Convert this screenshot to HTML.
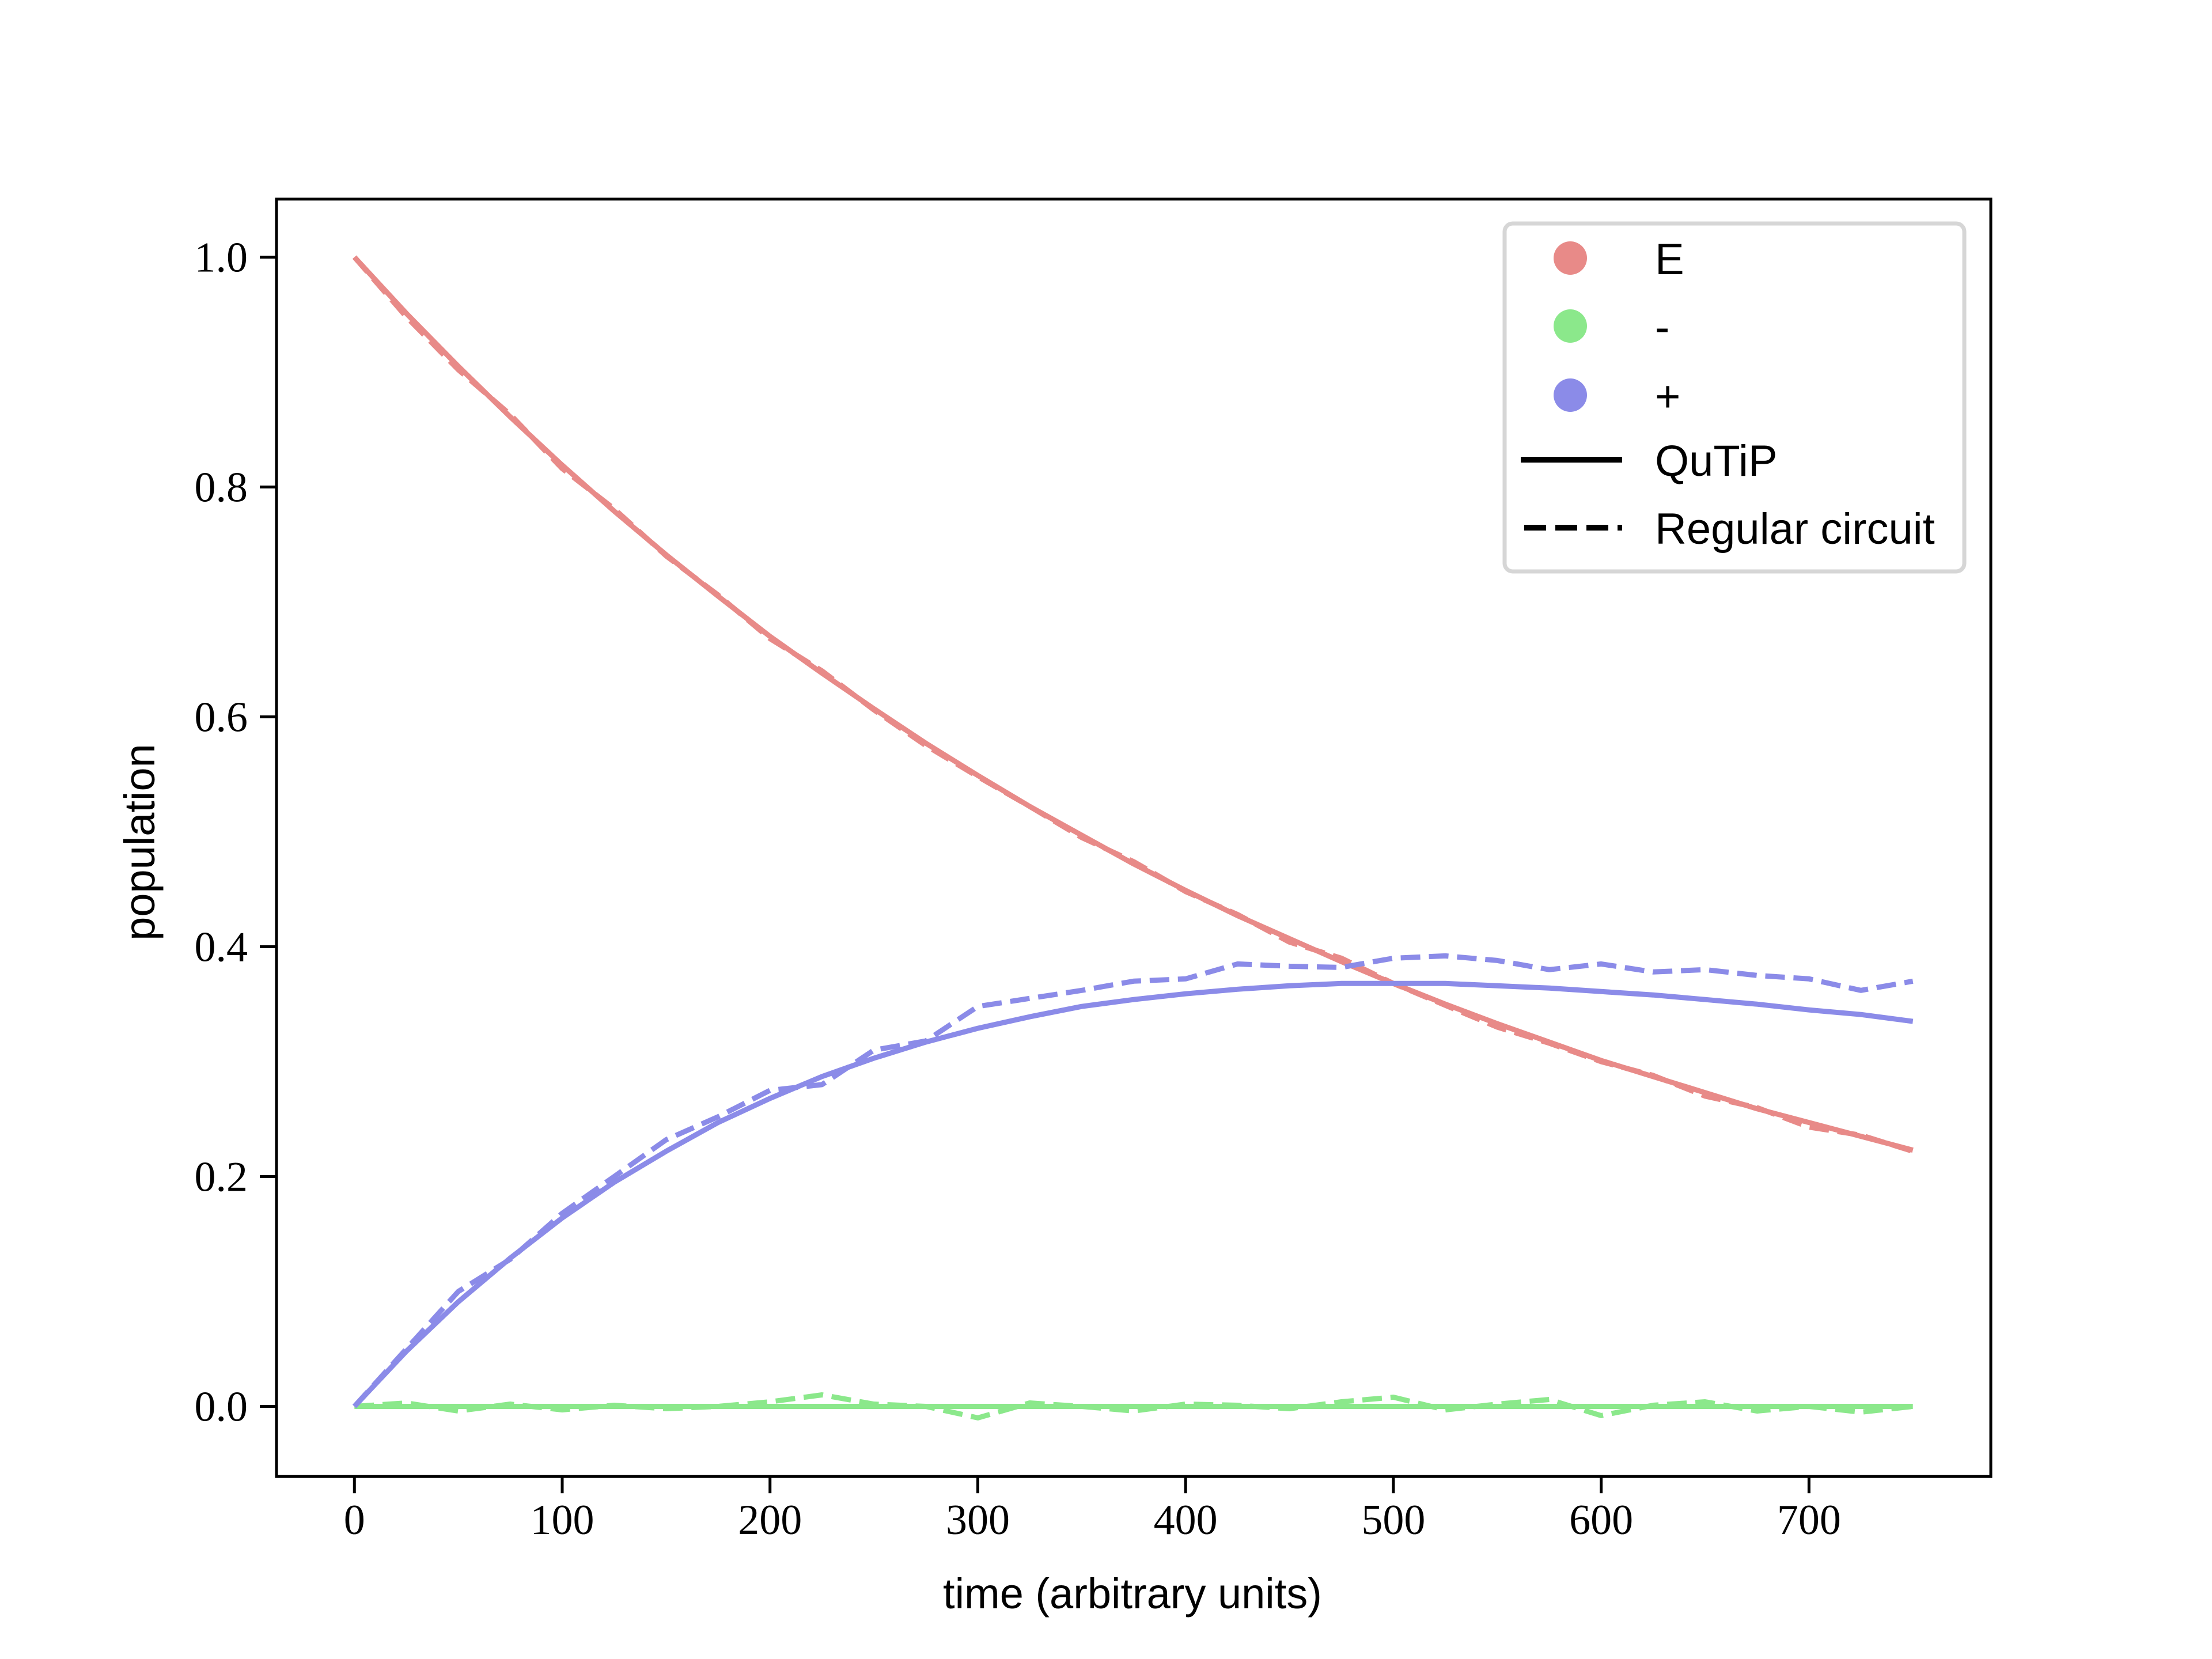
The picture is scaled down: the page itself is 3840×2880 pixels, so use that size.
<!DOCTYPE html>
<html><head><meta charset="utf-8"><style>
html,body{margin:0;padding:0;background:#fff;}
svg{display:block;}
</style></head><body>
<svg id="chart" width="3840" height="2880" viewBox="0 0 3840 2880" xmlns="http://www.w3.org/2000/svg">
<rect width="3840" height="2880" fill="#fff"/>
<g id="plot"></g>
</svg>
<script>
const times = [0,25,50,75,100,125,150,175,200,225,250,275,300,325,350,375,400,425,450,475,500,525,550,575,600,625,650,675,700,725,750];
const eQutip = [1.000,0.951,0.905,0.861,0.819,0.779,0.741,0.705,0.670,0.638,0.607,0.577,0.549,0.522,0.497,0.472,0.449,0.427,0.407,0.387,0.368,0.350,0.333,0.317,0.301,0.287,0.273,0.259,0.247,0.235,0.223];
const plusQutip = [0,0.048,0.091,0.129,0.164,0.195,0.222,0.247,0.268,0.287,0.303,0.317,0.329,0.339,0.348,0.354,0.359,0.363,0.366,0.368,0.368,0.368,0.366,0.364,0.361,0.358,0.354,0.350,0.345,0.341,0.335];
const minusQutip = [0,0,0,0,0,0,0,0,0,0,0,0,0,0,0,0,0,0,0,0,0,0,0,0,0,0,0,0,0,0,0];
const eCircuit = [1.000,0.948,0.902,0.863,0.816,0.781,0.740,0.706,0.668,0.640,0.606,0.575,0.548,0.522,0.495,0.474,0.448,0.428,0.404,0.390,0.368,0.349,0.330,0.316,0.300,0.288,0.270,0.260,0.243,0.236,0.222];
const plusCircuit = [0,0.050,0.100,0.128,0.168,0.200,0.232,0.252,0.275,0.280,0.310,0.318,0.348,0.355,0.362,0.370,0.372,0.385,0.383,0.382,0.390,0.392,0.388,0.380,0.385,0.378,0.380,0.375,0.372,0.362,0.370];
const minusCircuit = [0,0.003,-0.004,0.002,-0.003,0.001,-0.002,0.000,0.004,0.010,0.002,0.000,-0.010,0.003,0.000,-0.004,0.002,0.001,-0.002,0.004,0.008,-0.003,0.002,0.006,-0.008,0.001,0.004,-0.004,0.000,-0.005,0.000];
const xTicks = [0,100,200,300,400,500,600,700];
const yTicks = [0.0,0.2,0.4,0.6,0.8,1.0];

const L=480,R=3456,T=345.6,B=2563.2;
const xMin=-37.5,xMax=787.5,yMin=-0.061,yMax=1.0505;
const X=v=>L+(v-xMin)/(xMax-xMin)*(R-L);
const Y=v=>B-(v-yMin)/(yMax-yMin)*(B-T);
const NS="http://www.w3.org/2000/svg";
const g=document.getElementById('plot');
function mk(tag,attrs,parent){const e=document.createElementNS(NS,tag);for(const k in attrs)e.setAttribute(k,attrs[k]);(parent||g).appendChild(e);return e;}
const serif='"Liberation Serif", serif', sans='"Liberation Sans", sans-serif';

function line(ys,color,dashed,name){
  const d=times.map((t,i)=>(i?'L':'M')+X(t).toFixed(1)+' '+Y(ys[i]).toFixed(1)).join(' ');
  const p=mk('path',{d:d,fill:'none',stroke:color,'stroke-width':9,'stroke-linejoin':'round'});
  if(dashed)p.setAttribute('stroke-dasharray','34 15');
  
  
}
const cE='#e88a88',cM='#8be88b',cP='#8b8be8';
line(minusCircuit,cM,true,'minus-circuit-line');
line(minusQutip,cM,false,'minus-qutip-line');
line(eCircuit,cE,true,'e-circuit-line');
line(eQutip,cE,false,'e-qutip-line');
line(plusCircuit,cP,true,'plus-circuit-line');
line(plusQutip,cP,false,'plus-qutip-line');

const frame=mk('rect',{x:L,y:T,width:R-L,height:B-T,fill:'none',stroke:'#000','stroke-width':5});



xTicks.forEach(v=>{
  const t=mk('line',{x1:X(v),x2:X(v),y1:B,y2:B+29,stroke:'#000','stroke-width':5});
  
  
  const s=mk('text',{x:X(v),y:B+100,'text-anchor':'middle','font-family':serif,'font-size':74});
  s.textContent=v;
  
  
});
yTicks.forEach(v=>{
  const t=mk('line',{x1:L-29,x2:L,y1:Y(v),y2:Y(v),stroke:'#000','stroke-width':5});
  
  
  const s=mk('text',{x:L-50,y:Y(v)+25,'text-anchor':'end','font-family':serif,'font-size':74});
  s.textContent=v.toFixed(1);
  
  
});
const xl=mk('text',{x:1966,y:2792,'text-anchor':'middle','font-family':sans,'font-size':74});
xl.textContent='time (arbitrary units)';


const yl=mk('text',{x:0,y:0,transform:'translate(268 1462) rotate(-90)','text-anchor':'middle','font-family':sans,'font-size':74});
yl.textContent='population';



const lg=mk('g',{});


mk('rect',{x:2612,y:388,width:798,height:604,rx:14,fill:'#fff','fill-opacity':0.8,stroke:'#d6d6d6','stroke-width':7},lg);
const entries=[['E',cE,448],['-',cM,566],['+',cP,686]];
entries.forEach(e=>{
  const c=mk('circle',{cx:2726,cy:e[2],r:29,fill:e[1]},lg);
  
  
  const t=mk('text',{x:2873,y:e[2]+28,'font-family':sans,'font-size':76},lg);
  t.textContent=e[0];
  
  
});
const l1=mk('line',{x1:2640,x2:2816,y1:798,y2:798,stroke:'#000','stroke-width':10},lg);


const t1=mk('text',{x:2873,y:826,'font-family':sans,'font-size':76},lg);
t1.textContent='QuTiP';


const l2=mk('line',{x1:2646,x2:2816,y1:916,y2:916,stroke:'#000','stroke-width':10,'stroke-dasharray':'38 16'},lg);


const t2=mk('text',{x:2873,y:944,'font-family':sans,'font-size':76},lg);
t2.textContent='Regular circuit';


</script>
</body></html>
